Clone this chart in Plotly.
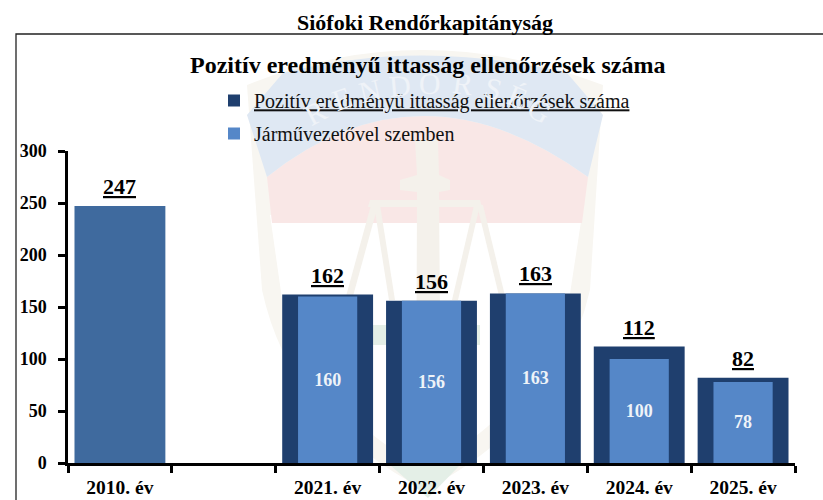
import plotly.graph_objects as go

categories = ["2010. év", " ", "2021. év", "2022. év", "2023. év", "2024. év", "2025. év"]
first_year = ["2010. év"]
first_total = [247]
years = ["2021. év", "2022. év", "2023. év", "2024. év", "2025. év"]
totals = [162, 156, 163, 112, 82]
drivers = [160, 156, 163, 100, 78]
y_ticks = [0, 50, 100, 150, 200, 250, 300]
watermark_letters = ["R", "E", "N", "D", "Ő", "R", "S", "É", "G"]

W, H = 823, 500
L, R, T, B = 68, 795, 151, 463
SERIF = "Liberation Serif"

def px(x): return (x - L) / (R - L)
def py(y): return (B - y) / (B - T)

fig = go.Figure()
fig.add_trace(go.Bar(x=first_year, y=first_total, width=0.875, showlegend=False,
    marker=dict(color="#3F6A9E", line_width=0), hoverinfo="skip"))
fig.add_trace(go.Bar(x=years, y=totals, width=0.875, name="<u>Pozitív eredményű ittasság ellenőrzések száma</u>",
    legendgroup="a", marker=dict(color="#1F3F6E", line_width=0), hoverinfo="skip"))
fig.add_trace(go.Bar(x=years, y=drivers, width=0.57, name="Járművezetővel szemben", legendgroup="b",
    marker=dict(color="#5587C8", line_width=0), text=[f"<b>{v}</b>" for v in drivers], textposition="inside",
    insidetextanchor="middle", textangle=0, textfont=dict(family=SERIF, size=18, color="#EEF3F8"), hoverinfo="skip"))

def P(x, y): return f"{px(x):.4f},{py(y):.4f}"
def path(d, color):
    return dict(type="path", xref="paper", yref="paper", path=d, fillcolor=color, line_width=0, layer="below")

shapes = [
    # outer cream shield
    path(f"M {P(247,85)} Q {P(420,15)} {P(603,85)} L {P(590,290)} Q {P(560,420)} {P(425,490)} Q {P(290,420)} {P(262,290)} Z", "#F8F6F1"),
    # white field
    path(f"M {P(270,215)} L {P(582,215)} L {P(566,320)} Q {P(530,410)} {P(425,470)} Q {P(320,410)} {P(285,320)} Z", "#FFFFFF"),
    # pink field
    path(f"M {P(267,177)} Q {P(420,55)} {P(588,177)} L {P(582,223)} L {P(272,223)} Z", "#F9E7E6"),
    # blue banner
    path(f"M {P(283,73)} Q {P(420,38)} {P(567,73)} L {P(603,115)} L {P(588,177)} Q {P(420,55)} {P(267,177)} L {P(247,115)} Z", "#DFE8F3"),
    # sword
    path(f"M {P(415,140)} L {P(438,140)} L {P(439,175)} L {P(450,180)} L {P(450,190)} L {P(439,192)} L {P(441,440)} L {P(428,470)} L {P(416,440)} L {P(417,192)} L {P(400,190)} L {P(400,180)} L {P(417,175)} Z", "#F4F1EB"),
    # scales
    path(f"M {P(370,200)} L {P(480,200)} L {P(482,207)} L {P(368,207)} Z", "#F4F1EB"),
    path(f"M {P(371,205)} L {P(378,205)} L {P(352,300)} L {P(345,300)} Z", "#F4F1EB"),
    path(f"M {P(374,205)} L {P(380,205)} L {P(395,300)} L {P(389,300)} Z", "#F4F1EB"),
    path(f"M {P(474,205)} L {P(480,205)} L {P(458,300)} L {P(452,300)} Z", "#F4F1EB"),
    path(f"M {P(477,205)} L {P(483,205)} L {P(506,300)} L {P(500,300)} Z", "#F4F1EB"),
    # green wreath
    path(f"M {P(370,325)} L {P(480,325)} L {P(480,345)} L {P(370,345)} Z", "#E4EFE7"),
    path(f"M {P(390,465)} L {P(460,465)} L {P(428,498)} Z", "#E4EFE7"),
    dict(type="rect", xref="paper", yref="paper", x0=px(16), x1=px(840), y0=py(520), y1=py(34),
         line=dict(color="#222222", width=1.3), fillcolor="rgba(0,0,0,0)", layer="above"),
]

letter_pos = [(315,112,-28),(342,99,-20),(370,90,-13),(400,85,-5),(430,83,2),(463,83,8),(493,88,15),(517,97,22),(540,110,30)]
annotations = [dict(text=c, xref="paper", yref="paper", x=px(x), y=py(y), textangle=a, showarrow=False,
                    font=dict(family=SERIF, size=30, color="#EFF3F8"), xanchor="center", yanchor="middle")
               for c, (x, y, a) in zip(watermark_letters, letter_pos)]
annotations += [
    dict(text="<b>Siófoki Rendőrkapitányság</b>", xref="paper", yref="paper", x=px(425), y=py(23), showarrow=False,
         font=dict(family=SERIF, size=22, color="#000000"), xanchor="center", yanchor="middle"),
    dict(text="<b>Pozitív eredményű ittasság ellenőrzések száma</b>", xref="paper", yref="paper", x=px(427), y=py(65), showarrow=False,
         font=dict(family=SERIF, size=24, color="#000000"), xanchor="center", yanchor="middle"),
]
annotations += [dict(text=f"<b><u>{v}</u></b>", x=c, y=v, xref="x", yref="y", yanchor="bottom", yshift=5, showarrow=False,
                     font=dict(family=SERIF, size=22, color="#000000"))
                for c, v in zip(first_year + years, first_total + totals)]

fig.update_layout(
    template="none",
    width=W, height=H, autosize=False, barmode="overlay",
    paper_bgcolor="#FFFFFF", plot_bgcolor="rgba(0,0,0,0)",
    margin=dict(l=L, r=W-R, t=T, b=H-B, autoexpand=False, pad=0),
    font=dict(family=SERIF, color="#000000"),
    shapes=shapes,
    annotations=annotations,
    showlegend=True,
    legend=dict(x=px(214), y=py(81), xanchor="left", yanchor="top", bgcolor="rgba(0,0,0,0)", borderwidth=0,
                font=dict(family=SERIF, size=20, color="#111111"), traceorder="grouped",
                itemsizing="constant", tracegroupgap=4),
    xaxis=dict(type="category", categoryorder="array", categoryarray=categories, range=[-0.5, 6.5],
               tickmode="array", tickvals=categories, ticktext=[f"<b>{c}</b>" for c in categories],
               ticks="outside", tickson="boundaries", ticklen=7, tickwidth=2.5, tickcolor="#000000", ticklabelstandoff=5,
               showline=True, linecolor="#000000", linewidth=2.5, showgrid=False, zeroline=False,
               tickfont=dict(family=SERIF, size=19.5, color="#000000"), fixedrange=True),
    yaxis=dict(range=[0, 300], tickmode="array", tickvals=y_ticks, ticktext=[f"<b>{v}</b>" for v in y_ticks],
               ticks="outside", ticklen=7, tickwidth=2.5, tickcolor="#000000", ticklabelstandoff=8,
               showline=True, linecolor="#000000", linewidth=2.5,
               showgrid=False, zeroline=False, tickfont=dict(family=SERIF, size=18, color="#000000"), fixedrange=True),
)
fig.write_html("out.html", config={"displayModeBar": False}, post_script="document.body.style.margin='0';")
